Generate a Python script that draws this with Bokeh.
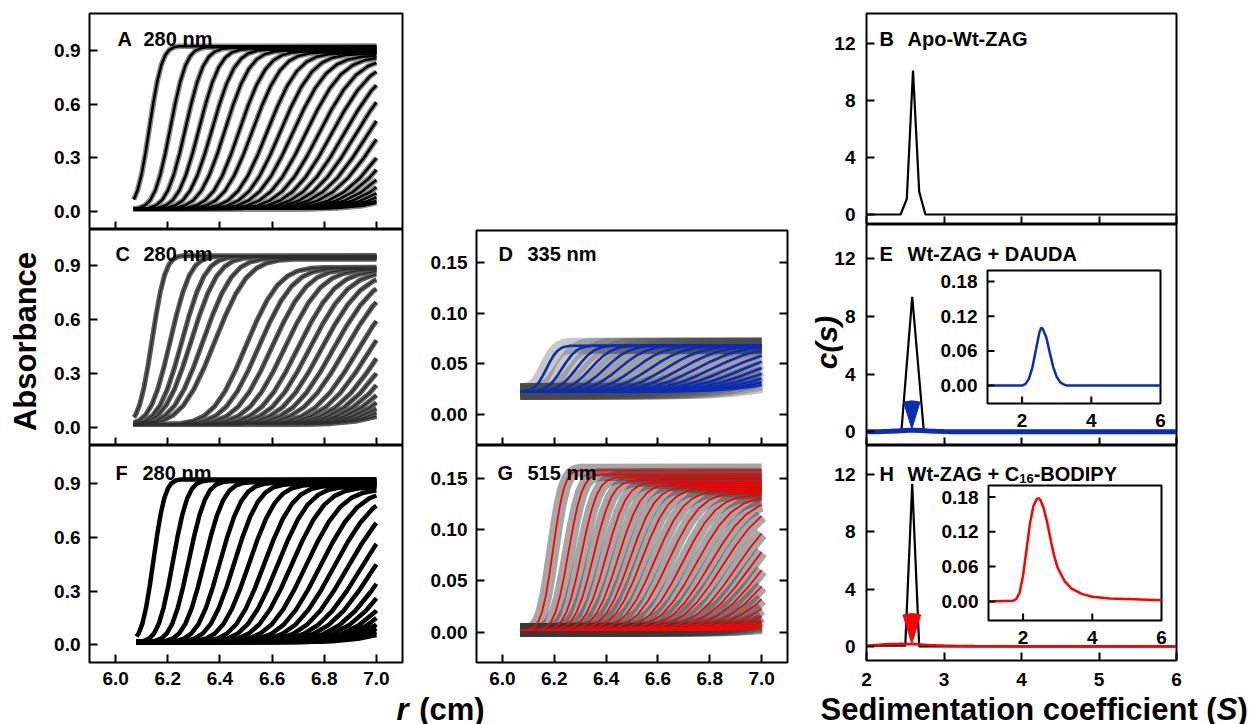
import numpy as np
from bokeh.plotting import figure
from bokeh.layouts import row, column
from bokeh.models import (Range1d, FixedTicker, LinearAxis, Label, PrintfTickFormatter,
                          CustomLabelingPolicy)
from bokeh.core.properties import value
from bokeh.embed import file_html
from bokeh.resources import INLINE

FONT = "Liberation Sans"
BLUE = "#0b2db5"
RED = "#ff0000"

# ---------------- data ----------------
# shape of a moving boundary: fraction of plateau vs offset (in boundary widths)
PROF_U = [-3.0, -2.5, -2.0, -1.6, -1.2, -0.8, -0.4, 0.0, 0.4, 0.8, 1.2, 1.6, 2.0, 2.5, 3.0]
PROF_F = [0.001, 0.006, 0.023, 0.055, 0.115, 0.212, 0.345, 0.5, 0.655, 0.788, 0.885, 0.945, 0.977, 0.994, 0.999]

# Panel A (280 nm): boundary midpoints (cm), widths (cm), plateaus
A_R50 = [6.13, 6.21, 6.268, 6.32, 6.37, 6.42, 6.475, 6.525, 6.582, 6.632, 6.68, 6.73, 6.78,
         6.828, 6.875, 6.92, 6.965, 7.01, 7.06, 7.10, 7.14, 7.18, 7.22, 7.26, 7.30, 7.34]
A_W = [0.038, 0.048, 0.056, 0.063, 0.070, 0.076, 0.082, 0.088, 0.094, 0.100, 0.106, 0.112, 0.118,
       0.124, 0.130, 0.136, 0.142, 0.148, 0.154, 0.160, 0.166, 0.172, 0.178, 0.184, 0.190, 0.196]
A_PLAT = [0.925, 0.920, 0.915, 0.910, 0.905, 0.900, 0.895, 0.890, 0.885, 0.880, 0.870, 0.865, 0.860,
          0.855, 0.850, 0.845, 0.840, 0.835, 0.830, 0.825, 0.820, 0.815, 0.810, 0.805, 0.800, 0.800]
A_BASE = 0.015

# Panel C (280 nm)
C_R50 = [6.14, 6.21, 6.255, 6.29, 6.335, 6.38, 6.50, 6.55, 6.60, 6.65, 6.70, 6.745, 6.79,
         6.835, 6.88, 6.93, 6.975, 7.02, 7.06, 7.10, 7.14, 7.18, 7.22, 7.26, 7.30]
C_W = [0.040, 0.060, 0.070, 0.080, 0.090, 0.100, 0.100, 0.104, 0.108, 0.112, 0.116, 0.120, 0.124,
       0.128, 0.132, 0.136, 0.142, 0.148, 0.154, 0.160, 0.166, 0.172, 0.178, 0.184, 0.190]
C_PLAT = [0.955, 0.950, 0.948, 0.945, 0.940, 0.935, 0.890, 0.885, 0.880, 0.875, 0.870, 0.865, 0.860,
          0.855, 0.850, 0.845, 0.840, 0.835, 0.830, 0.825, 0.820, 0.815, 0.810, 0.805, 0.800]
C_BASE = 0.015

# Panel F (280 nm)
F_R50 = [6.145, 6.22, 6.28, 6.34, 6.40, 6.455, 6.512, 6.57, 6.622, 6.675, 6.73, 6.785,
         6.838, 6.89, 6.942, 6.99, 7.04, 7.085, 7.13, 7.17, 7.21, 7.25, 7.29, 7.33]
F_W = [0.035, 0.045, 0.052, 0.060, 0.068, 0.075, 0.082, 0.089, 0.096, 0.103, 0.110, 0.117,
       0.124, 0.131, 0.138, 0.145, 0.152, 0.159, 0.166, 0.173, 0.180, 0.187, 0.194, 0.200]
F_PLAT = [0.925, 0.920, 0.915, 0.910, 0.905, 0.900, 0.895, 0.890, 0.885, 0.880, 0.870, 0.865,
          0.860, 0.850, 0.845, 0.840, 0.835, 0.830, 0.825, 0.820, 0.815, 0.810, 0.805, 0.800]
F_BASE = 0.015

# Panel D (335 nm)
D_R50 = [6.17, 6.23, 6.285, 6.34, 6.395, 6.45, 6.51, 6.57, 6.63, 6.69, 6.75, 6.81, 6.87,
         6.93, 6.99, 7.05, 7.11, 7.17, 7.23]
D_W = [0.035, 0.045, 0.055, 0.065, 0.075, 0.085, 0.095, 0.105, 0.115, 0.125, 0.135, 0.145,
       0.155, 0.165, 0.175, 0.185, 0.195, 0.205, 0.215]
D_PLAT = [0.068, 0.068, 0.068, 0.068, 0.068, 0.068, 0.068, 0.068, 0.068, 0.068, 0.068, 0.068,
          0.067, 0.067, 0.067, 0.067, 0.067, 0.067, 0.067]
D_BASE = 0.023

# Panel G (515 nm)
G_R50 = [6.195, 6.255, 6.305, 6.352, 6.40, 6.447, 6.493, 6.538, 6.588, 6.64, 6.695, 6.748, 6.80,
         6.85, 6.905, 6.955, 7.005, 7.055, 7.105, 7.155, 7.205, 7.255, 7.305, 7.355, 7.405]
G_W = [0.035, 0.042, 0.049, 0.056, 0.063, 0.070, 0.077, 0.084, 0.091, 0.098, 0.105, 0.112, 0.119,
       0.126, 0.133, 0.140, 0.147, 0.154, 0.161, 0.168, 0.175, 0.182, 0.189, 0.196, 0.203]
G_PLAT = [0.158, 0.154, 0.151, 0.148, 0.146, 0.144, 0.142, 0.140, 0.138, 0.136, 0.134, 0.132, 0.130,
          0.128, 0.126, 0.124, 0.122, 0.120, 0.118, 0.116, 0.114, 0.112, 0.110, 0.108, 0.106]
G_BASE = 0.002

MENISCUS = 6.07
R_BOTTOM = 7.0

# c(s) distributions
B_S = [2.0, 2.44, 2.52, 2.60, 2.68, 2.76, 6.0]
B_C = [0.0, 0.0, 1.1, 10.1, 1.6, 0.0, 0.0]
E_S = [2.0, 2.45, 2.59, 2.74, 6.0]
E_C = [0.0, 0.0, 9.35, 0.0, 0.0]
H_S = [2.0, 2.5, 2.59, 2.68, 6.0]
H_C = [0.05, 0.05, 11.35, 0.0, 0.0]

DAUDA_S = [1.0, 2.0, 2.1, 2.2, 2.3, 2.4, 2.5, 2.55, 2.6, 2.7, 2.8, 2.9, 3.0, 3.1, 3.2, 3.3, 6.0]
DAUDA_C = [0.0, 0.0, 0.003, 0.012, 0.032, 0.062, 0.092, 0.100, 0.098, 0.083, 0.057, 0.032, 0.015,
           0.006, 0.002, 0.0, 0.0]
BODIPY_S = [1.0, 1.7, 1.8, 1.9, 2.0, 2.1, 2.2, 2.3, 2.4, 2.45, 2.5, 2.6, 2.7, 2.8, 2.9, 3.0,
            3.2, 3.4, 3.7, 4.0, 4.5, 5.0, 6.0]
BODIPY_C = [0.0, 0.001, 0.004, 0.015, 0.045, 0.090, 0.135, 0.165, 0.177, 0.178, 0.175, 0.160,
            0.135, 0.105, 0.078, 0.058, 0.035, 0.022, 0.013, 0.008, 0.005, 0.004, 0.002]
ARROW_S = [2.585]      # arrow tips marking the 2.6 S peak
ARROW_E_TIP = [0.2]
ARROW_H_TIP = [0.2]

R_TICKS = [6.0, 6.2, 6.4, 6.6, 6.8, 7.0]
ABS_TICKS = [0.0, 0.3, 0.6, 0.9]
VIS_TICKS = [0.0, 0.05, 0.10, 0.15]
S_TICKS = [2, 3, 4, 5, 6]
CS_TICKS = [0, 4, 8, 12]
INSET_X_TICKS = [2, 4, 6]
INSET_Y_TICKS = [0.0, 0.06, 0.12, 0.18]


def scans(r50s, ws, plats, base, r_start):
    xs, ys = [], []
    for r50, w, plat in zip(r50s, ws, plats):
        rr = [r50 + u * w for u in PROF_U]
        yy = [base + (plat - base) * f for f in PROF_F]
        x = [r_start]
        y = [float(np.interp(r_start, rr, yy, left=base, right=plat))]
        for a, b in zip(rr, yy):
            if r_start < a < R_BOTTOM:
                x.append(a)
                y.append(b)
        x.append(R_BOTTOM)
        y.append(float(np.interp(R_BOTTOM, rr, yy, left=base, right=plat)))
        xs.append(x)
        ys.append(y)
    return xs, ys


def style_axis(ax, ticks, fmt, show, standoff):
    ax.ticker = FixedTicker(ticks=ticks)
    ax.formatter = PrintfTickFormatter(format=fmt)
    ax.major_tick_in = 8
    ax.major_tick_out = 0
    ax.major_tick_line_width = 2
    ax.major_tick_line_color = "black"
    ax.minor_tick_line_color = None
    ax.axis_line_color = None
    if show:
        ax.major_label_text_font = FONT
        ax.major_label_text_font_size = "19px"
        ax.major_label_text_font_style = "bold"
        ax.major_label_text_color = "black"
        ax.major_label_standoff = standoff
    else:
        ax.major_label_policy = CustomLabelingPolicy(code="return []")
        ax.major_label_text_font_size = "0px"
        ax.major_label_standoff = 0


class Panel:
    """A figure plus the page geometry of its frame (px), to place outside titles."""

    def __init__(self, w, h, xr, yr, bl, br, bt, bb, xt, xf, yt, yf, show_x, xs_off, ys_off,
                 page_left, page_top, right=False):
        p = figure(width=w, height=h, x_range=Range1d(*xr), y_range=Range1d(*yr),
                   output_backend="svg", toolbar_location=None,
                   min_border_left=bl, min_border_right=br, min_border_top=bt, min_border_bottom=bb)
        p.grid.visible = False
        p.outline_line_color = "black"
        p.outline_line_width = 2
        p.outline_line_alpha = 1
        p.background_fill_color = "white"
        p.border_fill_color = "white"
        style_axis(p.xaxis[0], xt, xf, show_x, xs_off)
        style_axis(p.yaxis[0], yt, yf, True, ys_off)
        if right:
            ra = LinearAxis()
            style_axis(ra, yt, yf, False, 0)
            p.add_layout(ra, "right")
        self.p = p
        self.xr, self.yr = xr, yr
        self.fl = page_left + bl
        self.ft = page_top + bt
        self.fw = w - bl - br
        self.fh = h - bt - bb

    def data(self, px, py):
        x = self.xr[0] + (px - self.fl) / self.fw * (self.xr[1] - self.xr[0])
        y = self.yr[0] + (self.ft + self.fh - py) / self.fh * (self.yr[1] - self.yr[0])
        return x, y

    def txt(self, x, y, text, size, style="bold"):
        # x from the left of the frame, y up from the bottom of the frame (pixels)
        self.p.add_layout(Label(x=x, y=y, x_units="screen", y_units="screen", text=text,
                                text_font=FONT, text_font_size=f"{size}px", text_font_style=style,
                                text_color="black", text_baseline="alphabetic"))

    def title(self, side, px, py, text, size, style="bold", angle=0.0, align="left"):
        # text outside the frame, anchored at page pixel (px, py); kept in a border panel
        x, y = self.data(px, py)
        self.p.add_layout(Label(x=x, y=y, text=text, text_font=FONT,
                                text_font_size=f"{size}px", text_font_style=style,
                                text_color="black", angle=angle, text_align=align,
                                text_baseline="alphabetic"), side)


R_RANGE = (5.9, 7.1)
S_RANGE = (2.0, 6.0)
TITLE_BASE = 709

# ---------------- left column (page x 0..412) ----------------
A = Panel(412, 229, R_RANGE, (-0.1, 1.107), 89, 10, 13, 0, R_TICKS, "%.1f", ABS_TICKS, "%.1f", False, 9, 9, 0, 0)
C = Panel(412, 216, R_RANGE, (-0.102, 1.1), 89, 10, 0, 0, R_TICKS, "%.1f", ABS_TICKS, "%.1f", False, 9, 9, 0, 229)
F = Panel(412, 279, R_RANGE, (-0.099, 1.114), 89, 10, 0, 62, R_TICKS, "%.1f", ABS_TICKS, "%.1f", True, 9, 9, 0, 445)

xs, ys = scans(A_R50, A_W, A_PLAT, A_BASE, MENISCUS)
A.p.multi_line(xs, ys, line_color="#8a8a8a", line_width=5.5)
A.p.multi_line(xs, ys, line_color="black", line_width=2.5)
xs, ys = scans(C_R50, C_W, C_PLAT, C_BASE, MENISCUS)
C.p.multi_line(xs, ys, line_color="#5a5a5a", line_width=5)
C.p.multi_line(xs, ys, line_color="#2e2e2e", line_width=1.5)
xs, ys = scans(F_R50, F_W, F_PLAT, F_BASE, 6.08)
F.p.multi_line(xs, ys, line_color="black", line_width=4.5)

A.txt(28, 191, "A", 20)
A.txt(54, 191, "280 nm", 20)
C.txt(26, 192, "C", 20)
C.txt(54, 192, "280 nm", 20)
F.txt(26, 190, "F", 20)
F.txt(53, 190, "280 nm", 20)
C.title("left", 25, 341, "Absorbance", 31, angle=np.pi / 2, align="center")
F.title("below", 396, TITLE_BASE, "r", 31, style="bold italic")

# ---------------- middle column (page x 412..806) ----------------
D = Panel(394, 445, R_RANGE, (-0.03, 0.181), 64, 19, 230, 0, R_TICKS, "%.1f", VIS_TICKS, "%.2f", False, 9, 9, 412, 0, right=True)
G = Panel(394, 279, R_RANGE, (-0.0295, 0.182), 64, 19, 0, 62, R_TICKS, "%.1f", VIS_TICKS, "%.2f", True, 9, 9, 412, 445, right=True)

xs, ys = scans(D_R50, D_W, D_PLAT, D_BASE, MENISCUS)
D.p.multi_line(xs, ys, line_color="#4a4a4a", line_width=16, line_alpha=0.3)
D.p.multi_line(xs, ys, line_color=BLUE, line_width=2.6)
xs, ys = scans(G_R50, G_W, G_PLAT, G_BASE, MENISCUS)
G.p.multi_line(xs, ys, line_color="#3a3a3a", line_width=13, line_alpha=0.45)
G.p.multi_line(xs, ys, line_color=RED, line_width=1.8)

D.txt(22, 192, "D", 20)
D.txt(51, 192, "335 nm", 20)
G.txt(21, 190, "G", 20)
G.txt(51, 190, "515 nm", 20)
G.title("below", 418.7, TITLE_BASE, "(cm)", 31)

# ---------------- right column (page x 806..1256) ----------------
B = Panel(450, 224, S_RANGE, (-0.7, 14.1), 60, 80, 13, 0, S_TICKS, "%d", CS_TICKS, "%d", False, 12, 11, 806, 0)
E = Panel(450, 221, S_RANGE, (-0.95, 14.35), 60, 80, 0, 0, S_TICKS, "%d", CS_TICKS, "%d", False, 12, 11, 806, 224)
H = Panel(450, 279, S_RANGE, (-0.98, 14.03), 60, 80, 0, 64, S_TICKS, "%d", CS_TICKS, "%d", True, 12, 11, 806, 445)

B.p.line(B_S, B_C, line_color="black", line_width=2.2)
E.p.line(E_S, E_C, line_color="black", line_width=2.2)
E.p.line(DAUDA_S, DAUDA_C, line_color=BLUE, line_width=5)
E.p.wedge(ARROW_S, ARROW_E_TIP, radius=28, radius_units="screen", start_angle=73, end_angle=107,
          start_angle_units="deg", end_angle_units="deg", fill_color=BLUE, line_color=BLUE)
H.p.line(H_S, H_C, line_color="black", line_width=2.2)
H.p.line(BODIPY_S, BODIPY_C, line_color=RED, line_width=2.6)
H.p.wedge(ARROW_S, ARROW_H_TIP, radius=30, radius_units="screen", start_angle=73, end_angle=107,
          start_angle_units="deg", end_angle_units="deg", fill_color=RED, line_color=RED)

B.txt(13, 186, "B", 20)
B.txt(41, 186, "Apo-Wt-ZAG", 20)
E.txt(13, 192, "E", 20)
E.txt(41, 192, "Wt-ZAG + DAUDA", 20)
H.txt(13, 187, "H", 20)
H.txt(41, 187, "Wt-ZAG + C", 20)
H.txt(152.7, 182, "16", 13)
H.txt(167.2, 187, "-BODIPY", 20)

E.title("right", 826, 342, "c(s)", 30, style="bold italic", angle=np.pi / 2, align="center")
H.title("below", 820, TITLE_BASE, "Sedimentation coefficient (", 31)
H.title("right", 1216.2, TITLE_BASE, "S", 31, style="bold italic")
H.title("right", 1236.9, TITLE_BASE, ")", 31)


def inset(p, xs_src, ys_src, xt_tgt, yt_tgt, s, c, color):
    xsr = Range1d(*xs_src)
    ysr = Range1d(*ys_src)
    sub = p.subplot(x_source=xsr, y_source=ysr,
                    x_target=Range1d(*xt_tgt), y_target=Range1d(*yt_tgt))
    sub.quad(left=[xsr.start], right=[xsr.end], bottom=[ysr.start], top=[ysr.end],
             fill_color="white", line_color="black", line_width=2)
    sub.line(s, c, line_color=color, line_width=2.5)
    sub.ray(x=[xsr.start] * len(INSET_Y_TICKS), y=INSET_Y_TICKS, length=7,
            length_units="screen", angle=0, line_color="black", line_width=2)
    sub.ray(x=INSET_X_TICKS[:-1], y=[ysr.start] * (len(INSET_X_TICKS) - 1), length=7,
            length_units="screen", angle=np.pi / 2, line_color="black", line_width=2)
    sub.text(x=[xsr.start] * len(INSET_Y_TICKS), y=INSET_Y_TICKS,
             text=["%.2f" % v for v in INSET_Y_TICKS], x_offset=-10,
             text_align="right", text_baseline="middle",
             text_font=value(FONT), text_font_size=value("19px"),
             text_font_style=value("bold"), text_color="black")
    sub.text(x=INSET_X_TICKS, y=[ysr.start] * len(INSET_X_TICKS),
             text=["%d" % v for v in INSET_X_TICKS], y_offset=10,
             text_align="center", text_baseline="top",
             text_font=value(FONT), text_font_size=value("19px"),
             text_font_style=value("bold"), text_color="black")


ex0, ey0 = E.data(987, 403)
ex1, ey1 = E.data(1160, 270)
inset(E.p, (1.0, 6.0), (-0.031, 0.199), (ex0, ex1), (ey0, ey1), DAUDA_S, DAUDA_C, BLUE)
hx0, hy0 = H.data(988, 620)
hx1, hy1 = H.data(1161, 485)
inset(H.p, (1.0, 6.0), (-0.033, 0.2), (hx0, hx1), (hy0, hy1), BODIPY_S, BODIPY_C, RED)

layout = row(column(A.p, C.p, F.p), column(D.p, G.p), column(B.p, E.p, H.p))
open("out.html", "w").write(file_html(layout, INLINE))
